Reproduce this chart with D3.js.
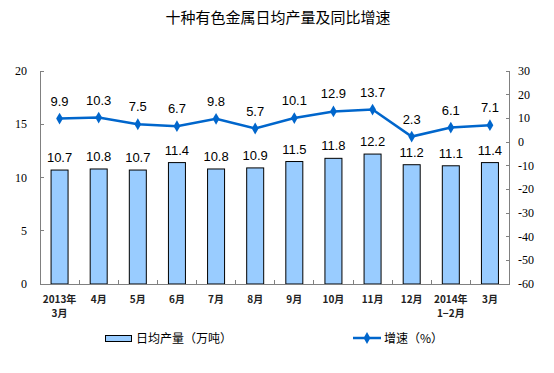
<!DOCTYPE html>
<html>
<head>
<meta charset="utf-8">
<script src="https://cdn.jsdelivr.net/npm/d3@7"></script>
<style>
  body { margin: 0; background: #fff; }
  svg { display: block; }
</style>
</head>
<body>
<script>
const width = 554;
const height = 373;

// data
const months = [["2013年", "3月"], ["4月"], ["5月"], ["6月"], ["7月"], ["8月"], ["9月"], ["10月"], ["11月"], ["12月"], ["2014年", "1−2月"], ["3月"]];
const output = [10.7, 10.8, 10.7, 11.4, 10.8, 10.9, 11.5, 11.8, 12.2, 11.2, 11.1, 11.4];
const growth = [9.9, 10.3, 7.5, 6.7, 9.8, 5.7, 10.1, 12.9, 13.7, 2.3, 6.1, 7.1];
const leftTicks = [0, 5, 10, 15, 20];
const rightTicks = [30, 20, 10, 0, -10, -20, -30, -40, -50, -60];

const COLOR_BAR = "#99CCFF";
const COLOR_LINE = "#0066CC";
const COLOR_AXIS = "#808080";
const CJK = "'Noto Sans CJK SC', 'Liberation Sans', sans-serif";

const plot = {left: 40, right: 509.5, top: 71, bottom: 284};

const svg = d3.select("body").append("svg")
    .attr("width", width)
    .attr("height", height);

svg.append("text")
    .attr("x", 278).attr("y", 23)
    .attr("text-anchor", "middle")
    .attr("font-family", CJK)
    .attr("font-size", 15)
    .text("十种有色金属日均产量及同比增速");

const x = d3.scaleBand()
    .domain(d3.range(months.length))
    .range([plot.left, plot.right]);
const yL = d3.scaleLinear().domain([0, 20]).range([plot.bottom, plot.top]);
const yR = d3.scaleLinear().domain([-60, 30]).range([plot.bottom, plot.top]);

const barW = 17;

// bars
svg.append("g").selectAll("rect")
    .data(output)
    .enter().append("rect")
    .attr("x", (d, i) => x(i) + x.bandwidth() / 2 - barW / 2)
    .attr("y", d => yL(d))
    .attr("width", barW)
    .attr("height", d => yL(0) - yL(d))
    .attr("fill", COLOR_BAR)
    .attr("stroke", "#000")
    .attr("stroke-width", 1);

// axes
const axes = svg.append("g")
    .attr("stroke", COLOR_AXIS)
    .attr("stroke-width", 1)
    .attr("shape-rendering", "crispEdges");
axes.append("line").attr("x1", plot.left).attr("x2", plot.left).attr("y1", plot.top).attr("y2", plot.bottom);
axes.append("line").attr("x1", plot.right).attr("x2", plot.right).attr("y1", plot.top).attr("y2", plot.bottom);
axes.append("line").attr("x1", plot.left).attr("x2", plot.right).attr("y1", plot.bottom).attr("y2", plot.bottom);

leftTicks.forEach(t => {
    axes.append("line").attr("x1", plot.left).attr("x2", plot.left + 4)
        .attr("y1", yL(t)).attr("y2", yL(t));
});
rightTicks.forEach(t => {
    axes.append("line").attr("x1", plot.right - 4).attr("x2", plot.right)
        .attr("y1", yR(t)).attr("y2", yR(t));
});
d3.range(months.length + 1).forEach(i => {
    const xp = i < months.length ? x(i) : plot.right;
    axes.append("line").attr("x1", xp).attr("x2", xp)
        .attr("y1", plot.bottom - 4).attr("y2", plot.bottom);
});

// tick labels
svg.append("g").selectAll("text")
    .data(leftTicks)
    .enter().append("text")
    .attr("x", 27).attr("y", d => yL(d) + 4)
    .attr("text-anchor", "end")
    .attr("font-family", "'Liberation Serif', serif")
    .attr("font-size", 12)
    .text(d => d);

svg.append("g").selectAll("text")
    .data(rightTicks)
    .enter().append("text")
    .attr("x", 518).attr("y", d => yR(d) + 4)
    .attr("font-family", "'Liberation Serif', serif")
    .attr("font-size", 12)
    .text(d => d);

// category labels
const cat = svg.append("g")
    .attr("font-family", CJK)
    .attr("font-size", 10)
    .attr("font-weight", "bold")
    .attr("fill", "#222")
    .attr("text-anchor", "middle");
months.forEach((lines, i) => {
    lines.forEach((s, k) => {
        cat.append("text")
            .attr("x", x(i) + x.bandwidth() / 2)
            .attr("y", 303 + k * 14)
            .text(s);
    });
});

// bar value labels
svg.append("g").selectAll("text")
    .data(output)
    .enter().append("text")
    .attr("x", (d, i) => x(i) + x.bandwidth() / 2)
    .attr("y", d => yL(d) - 8)
    .attr("text-anchor", "middle")
    .attr("font-family", "'Liberation Sans', Arial, sans-serif")
    .attr("font-size", 13)
    .text(d => d.toFixed(1));

// growth line
const line = d3.line()
    .x((d, i) => x(i) + x.bandwidth() / 2)
    .y(d => yR(d));
svg.append("path")
    .datum(growth)
    .attr("d", line)
    .attr("fill", "none")
    .attr("stroke", COLOR_LINE)
    .attr("stroke-width", 2.5);

const diamond = d3.symbol().type(d3.symbolDiamond).size(40);
svg.append("g").selectAll("path")
    .data(growth)
    .enter().append("path")
    .attr("d", diamond)
    .attr("transform", (d, i) => `translate(${x(i) + x.bandwidth() / 2},${yR(d)})`)
    .attr("fill", COLOR_LINE);

svg.append("g").selectAll("text")
    .data(growth)
    .enter().append("text")
    .attr("x", (d, i) => x(i) + x.bandwidth() / 2)
    .attr("y", d => yR(d) - 13)
    .attr("text-anchor", "middle")
    .attr("font-family", "'Liberation Sans', Arial, sans-serif")
    .attr("font-size", 13)
    .text(d => d.toFixed(1));

// legend
const legend = svg.append("g");
legend.append("rect")
    .attr("x", 105.5).attr("y", 335.5)
    .attr("width", 26).attr("height", 6)
    .attr("fill", COLOR_BAR).attr("stroke", "#000");
legend.append("text")
    .attr("x", 136).attr("y", 343)
    .attr("font-family", CJK)
    .attr("font-size", 12)
    .text("日均产量（万吨）");

legend.append("line")
    .attr("x1", 353).attr("x2", 381).attr("y1", 338).attr("y2", 338)
    .attr("stroke", COLOR_LINE).attr("stroke-width", 2.5);
legend.append("path")
    .attr("d", diamond)
    .attr("transform", "translate(367,338)")
    .attr("fill", COLOR_LINE);
legend.append("text")
    .attr("x", 384).attr("y", 343)
    .attr("font-family", CJK)
    .attr("font-size", 12)
    .text("增速（%）");
</script>
</body>
</html>
